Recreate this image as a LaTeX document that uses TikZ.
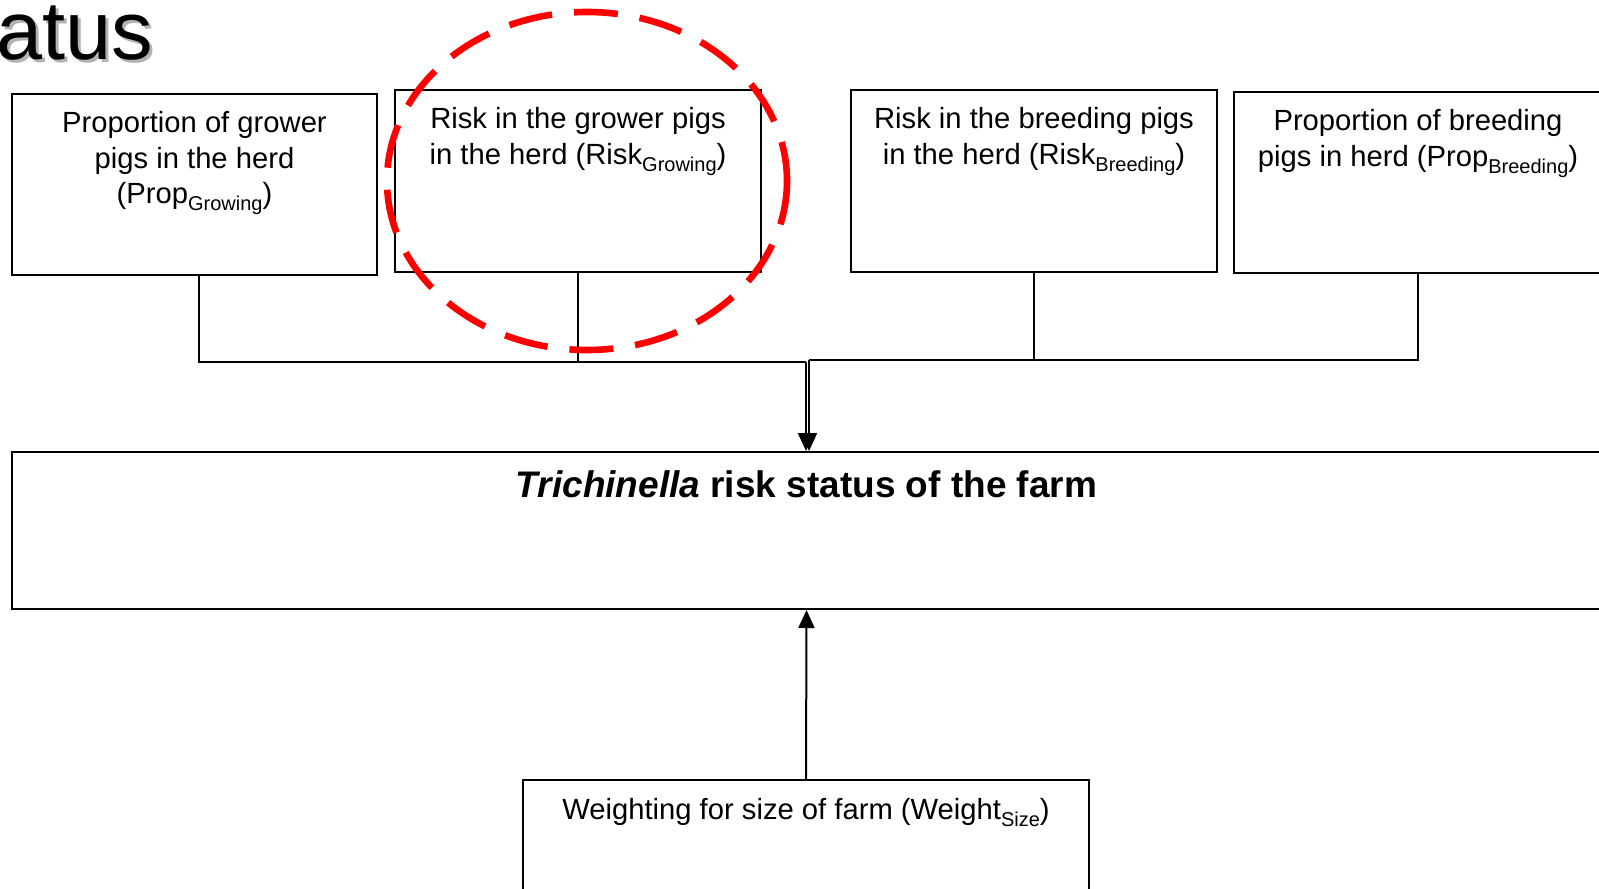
\documentclass[tikz,border=0pt]{standalone}
\usepackage{fontspec}
\setmainfont{Liberation Sans}
\usetikzlibrary{arrows.meta,positioning}
\newcommand{\boxfont}{\fontsize{14.6}{17.75}\selectfont}
\newcommand{\farmfont}{\fontsize{18.5}{21}\selectfont\bfseries}
\newcommand{\sub}[1]{\raisebox{-3.6pt}{\fontsize{10}{12}\selectfont #1}}
\definecolor{ringred}{RGB}{255,0,0}

\tikzset{
	box/.style={draw, line width=1pt, inner sep=0pt},
	boxtext/.style={align=center, font=\boxfont, inner sep=0pt, anchor=north},
	link/.style={line width=1pt},
	uparrow/.style={line width=1pt, -{Triangle[length=9pt,width=8pt]}}
}

\begin{document}
\begin{tikzpicture}[x=0.5pt,y=-0.5pt]
	\useasboundingbox (0,0) rectangle (1599,888);
	% title, cut at the left
	\node at (-1,63)[anchor=base west, inner sep=0pt, text=black!30, font=\fontsize{41.5}{45}\selectfont] (titleshadow) {atus};
	\node at (-4,60)[anchor=base west, inner sep=0pt, font=\fontsize{41.5}{45}\selectfont] (title) {atus};
	% top row
	\node at (194.5,184.5)[box, minimum width=182.5pt, minimum height=90.5pt] (propG) {};
	\node[boxtext, below=9pt of propG.north] (propGtext) {Proportion of grower\\pigs in the herd\\(Prop\sub{Growing})};
	\node at (578,181)[box, minimum width=183pt, minimum height=91pt] (riskG) {};
	\node[boxtext, below=9pt of riskG.north] (riskGtext) {Risk in the grower pigs\\in the herd (Risk\sub{Growing})};
	\node at (1034,181)[box, minimum width=183pt, minimum height=91pt] (riskB) {};
	\node[boxtext, below=9pt of riskB.north] (riskBtext) {Risk in the breeding pigs\\in the herd (Risk\sub{Breeding})};
	\node at (1418,182.5)[box, minimum width=184pt, minimum height=90.5pt] (propB) {};
	\node[boxtext, below=9pt of propB.north] (propBtext) {Proportion of breeding\\pigs in herd (Prop\sub{Breeding})};
	% farm status
	\node at (806.5,530.5)[box, minimum width=794.5pt, minimum height=78.5pt] (farm) {};
	\node[inner sep=0pt, anchor=north, font=\farmfont, below=9.5pt of farm.north] (farmtext) {\textit{Trichinella} risk status of the farm};
	% weighting
	\node at (806,850)[box, minimum width=283pt, minimum height=70pt] (weight) {};
	\node[boxtext, below=9.5pt of weight.north] (weighttext) {Weighting for size of farm (Weight\sub{Size})};
	% joins
	\coordinate (jl) at (806,362);
	\coordinate (jr) at (809,360);
	\draw[link] ([xshift=2.25pt]propG.south) |- (jl);
	\draw[link] (riskG.south) |- (jl);
	\draw[link] (riskB.south) |- (jr);
	\draw[link] (propB.south) |- (jr);
	\draw[uparrow] (jl) -- (jl |- farm.north);
	\draw[uparrow] (jr) -- (jr |- farm.north);
	\draw[uparrow] (weight.north) -- (farm.south);
	% red ring round the grower risk
	\draw[ringred, line width=3.3pt, dash pattern=on 22pt off 11pt] (587,181) ellipse [x radius=200, y radius=169];
\end{tikzpicture}
\end{document}
